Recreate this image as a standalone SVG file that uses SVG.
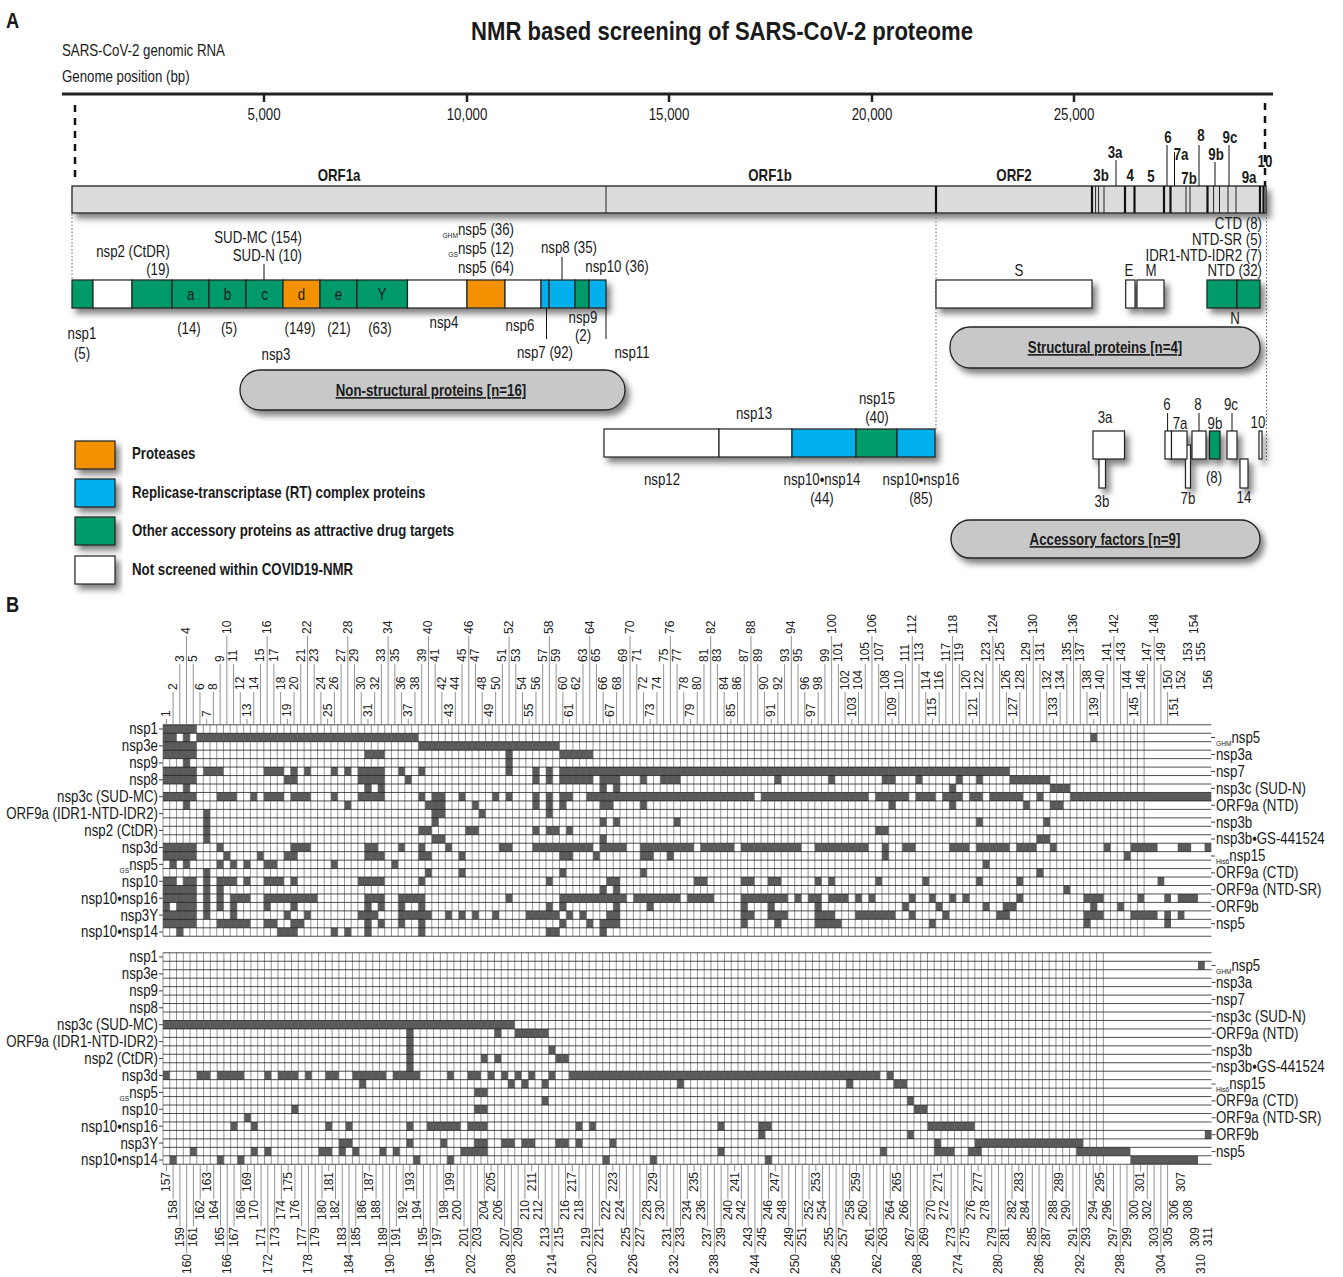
<svg xmlns="http://www.w3.org/2000/svg" width="1343" height="1277" viewBox="0 0 1343 1277">
<defs>
<style>
text{font-family:'Liberation Sans',Arial,sans-serif;font-size:16px;fill:#1a1a1a}
text:not(.cl){transform-box:fill-box;transform:scaleX(.83);transform-origin:left center}
text.m:not(.cl),.m text{transform-origin:center}
text.e:not(.cl),.e text{transform-origin:right center}
text.cl{transform-box:view-box;transform-origin:0 0}
.b{font-weight:bold}.m{text-anchor:middle}.e{text-anchor:end}
.t{font-size:26px;font-weight:bold}
text.t{transform:scaleX(.85)}
.cl{font-size:12px;fill:#222}
.sub{font-size:8px}
.bx{stroke:#222;stroke-width:1.2}
.w{fill:#fff}.g{fill:#00996a}.o{fill:#f39200}.bl{fill:#00b0ec}
.pill{fill:#c8c8c8;stroke:#222;stroke-width:1.3}
.ld{stroke:#111;stroke-width:1;fill:none}
.dot{stroke:#666;stroke-width:1;stroke-dasharray:1.5 2;fill:none}
.fl{fill:#5a5a5a}
.gv{fill:none;stroke:#666;stroke-width:.7}
.gh{fill:none;stroke:#222;stroke-width:.8}
.cld{fill:none;stroke:#777;stroke-width:.8}
</style>
<filter id="sh" x="-10%" y="-30%" width="130%" height="200%"><feDropShadow dx="4" dy="5" stdDeviation="3" flood-color="#000" flood-opacity=".5"/></filter>
</defs>
<rect width="1343" height="1277" fill="#fff"/>

<text class="b" x="6" y="28" style="font-size:22px">A</text>
<text class="t m" x="722" y="40">NMR based screening of SARS-CoV-2 proteome</text>
<text x="62" y="56">SARS-CoV-2 genomic RNA</text>
<text x="62" y="82">Genome position (bp)</text>

<g id="axis">
<line x1="62" y1="94" x2="1273" y2="94" stroke="#222" stroke-width="3"/>
<path d="M264 94v8M467 94v8M669 94v8M872 94v8M1074 94v8" stroke="#222" stroke-width="2.5"/>
<text class="m" x="264" y="120">5,000</text>
<text class="m" x="467" y="120">10,000</text>
<text class="m" x="669" y="120">15,000</text>
<text class="m" x="872" y="120">20,000</text>
<text class="m" x="1074" y="120">25,000</text>
<path d="M75 105V182M1265 103V186" stroke="#111" stroke-width="2.5" stroke-dasharray="7 6"/>
</g>

<g id="genome">
<rect x="72" y="186" width="1194" height="27" fill="#dcdcdc" stroke="#222" stroke-width="1.3" filter="url(#sh)"/>
<path d="M606 186v27M1095.6 186v27M1098.6 186v27M1104 186v27M1186 186v27M1190 186v27M1213.6 186v27M1219.5 186v27M1228 186v27M1236 186v27" stroke="#222" stroke-width="1"/>
<path d="M936 186v27M1092 186v27M1125 186v27M1134.5 186v27M1164 186v27M1170.5 186v27M1207.5 186v27M1260 186v27M1263.5 186v27" stroke="#111" stroke-width="2.2"/>
<path class="ld" d="M1116 160v26M1167 145v41M1174.5 152v34M1199 145v41M1215 162v24M1229 145v41"/>
<text class="b m" x="339" y="181">ORF1a</text>
<text class="b m" x="770" y="181">ORF1b</text>
<text class="b m" x="1014" y="181">ORF2</text>
<g class="b" style="font-size:15px">
<text class="m" x="1101" y="181">3b</text>
<text class="m" x="1130" y="181">4</text>
<text class="m" x="1151" y="182">5</text>
<text class="m" x="1189" y="184">7b</text>
<text class="m" x="1249" y="183">9a</text>
<text class="m" x="1115" y="158">3a</text>
<text class="m" x="1168" y="143">6</text>
<text class="m" x="1181" y="160">7a</text>
<text class="m" x="1201" y="141">8</text>
<text class="m" x="1216" y="160">9b</text>
<text class="m" x="1230" y="143">9c</text>
<text class="m" x="1265" y="167">10</text>
</g>
</g>

<g id="guides">
<path class="dot" d="M72 214V280M936 214V429M1266.5 214V460"/>
</g>

<g id="nsp1-11">
<g filter="url(#sh)" class="bx">
<rect class="g" x="72" y="280" width="21" height="28"/>
<rect class="w" x="93" y="280" width="39" height="28"/>
<rect class="g" x="132" y="280" width="40" height="28"/>
<rect class="g" x="172" y="280" width="37" height="28"/>
<rect class="g" x="209" y="280" width="37" height="28"/>
<rect class="g" x="246" y="280" width="37" height="28"/>
<rect class="o" x="283" y="280" width="37" height="28"/>
<rect class="g" x="320" y="280" width="37" height="28"/>
<rect class="g" x="357" y="280" width="50.5" height="28"/>
<rect class="w" x="407.5" y="280" width="59.5" height="28"/>
<rect class="o" x="467" y="280" width="38" height="28"/>
<rect class="w" x="505" y="280" width="36" height="28"/>
<rect class="bl" x="541" y="280" width="8" height="28"/>
<rect class="bl" x="549" y="280" width="26" height="28"/>
<rect class="g" x="575" y="280" width="14" height="28"/>
<rect class="bl" x="589" y="280" width="17" height="28"/>
</g>
<text class="m" x="190.5" y="300">a</text>
<text class="m" x="227.5" y="300">b</text>
<text class="m" x="264.5" y="300">c</text>
<text class="m" x="301.5" y="300">d</text>
<text class="m" x="338.5" y="300">e</text>
<text class="m" x="382" y="300">Y</text>
<path class="ld" d="M264 264v16M562 257v23M546.5 308v31M606 308v31"/>
<text class="m" x="133" y="257">nsp2 (CtDR)</text>
<text class="m" x="158" y="275">(19)</text>
<text class="e" x="302" y="243">SUD-MC (154)</text>
<text class="e" x="302" y="261">SUD-N (10)</text>
<text class="e" x="514" y="235"><tspan class="sub" dy="3">GHM</tspan><tspan dy="-3">nsp5 (36)</tspan></text>
<text class="e" x="514" y="254"><tspan class="sub" dy="3">GS</tspan><tspan dy="-3">nsp5 (12)</tspan></text>
<text class="e" x="514" y="273">nsp5 (64)</text>
<text class="m" x="569" y="253">nsp8 (35)</text>
<text class="m" x="617" y="272">nsp10 (36)</text>
<text class="m" x="82" y="339">nsp1</text>
<text class="m" x="82" y="359">(5)</text>
<text class="m" x="189" y="334">(14)</text>
<text class="m" x="229" y="334">(5)</text>
<text class="m" x="300" y="334">(149)</text>
<text class="m" x="339" y="334">(21)</text>
<text class="m" x="380" y="334">(63)</text>
<text class="m" x="276" y="360">nsp3</text>
<text class="m" x="444" y="328">nsp4</text>
<text class="m" x="520" y="331">nsp6</text>
<text class="m" x="583" y="323">nsp9</text>
<text class="m" x="583" y="341">(2)</text>
<text class="m" x="545" y="358">nsp7 (92)</text>
<text class="m" x="632" y="358">nsp11</text>
</g>

<g id="pill-nsp">
<rect class="pill" x="240" y="370" width="385" height="40" rx="20" filter="url(#sh)"/>
<text class="b m" x="431" y="396" text-decoration="underline">Non-structural proteins [n=16]</text>
</g>

<g id="structural">
<g filter="url(#sh)" class="bx">
<rect class="w" x="936" y="280" width="156" height="28"/>
<rect class="w" x="1125.7" y="280" width="9.3" height="28"/>
<rect class="w" x="1137" y="280" width="27" height="28"/>
<rect class="g" x="1207" y="280" width="30" height="28"/>
<rect class="g" x="1237" y="280" width="23" height="28"/>
</g>
<text class="e" x="1262" y="229">CTD (8)</text>
<text class="e" x="1262" y="245">NTD-SR (5)</text>
<text class="e" x="1262" y="261">IDR1-NTD-IDR2 (7)</text>
<text class="e" x="1262" y="276">NTD (32)</text>
<text class="m" x="1019" y="276">S</text>
<text class="m" x="1129" y="276">E</text>
<text class="m" x="1151" y="276">M</text>
<text class="m" x="1235" y="324">N</text>
</g>

<g id="pill-structural">
<rect class="pill" x="950" y="327" width="310" height="41" rx="20" filter="url(#sh)"/>
<text class="b m" x="1105" y="353" text-decoration="underline">Structural proteins [n=4]</text>
</g>

<g id="legend">
<g filter="url(#sh)" class="bx">
<rect class="o" x="75" y="441" width="40" height="28"/>
<rect class="bl" x="75" y="479" width="40" height="28"/>
<rect class="g" x="75" y="517" width="40" height="28"/>
<rect class="w" x="75" y="556" width="40" height="28"/>
</g>
<text class="b" x="132" y="459">Proteases</text>
<text class="b" x="132" y="498">Replicase-transcriptase (RT) complex proteins</text>
<text class="b" x="132" y="536">Other accessory proteins as attractive drug targets</text>
<text class="b" x="132" y="575">Not screened within COVID19-NMR</text>
</g>

<g id="nsp12-16">
<g filter="url(#sh)" class="bx">
<rect class="w" x="604" y="429" width="115" height="28"/>
<rect class="w" x="719" y="429" width="73" height="28"/>
<rect class="bl" x="792" y="429" width="64" height="28"/>
<rect class="g" x="856" y="429" width="41" height="28"/>
<rect class="bl" x="897" y="429" width="38" height="28"/>
</g>
<text class="m" x="754" y="419">nsp13</text>
<text class="m" x="877" y="404">nsp15</text>
<text class="m" x="877" y="423">(40)</text>
<text class="m" x="662" y="485">nsp12</text>
<text class="m" x="822" y="485">nsp10•nsp14</text>
<text class="m" x="822" y="504">(44)</text>
<text class="m" x="921" y="485">nsp10•nsp16</text>
<text class="m" x="921" y="504">(85)</text>
</g>

<g id="accessory">
<g filter="url(#sh)" class="bx">
<rect class="w" x="1099" y="459" width="6.5" height="29"/>
<rect class="w" x="1093" y="431" width="31.5" height="28"/>
<rect class="w" x="1185.5" y="445" width="5" height="43"/>
<rect class="w" x="1165" y="431" width="6.5" height="28"/>
<rect class="w" x="1171.5" y="431" width="15.5" height="28"/>
<rect class="w" x="1192" y="431" width="14" height="28"/>
<rect class="g" x="1209.5" y="431" width="10.5" height="28"/>
<rect class="w" x="1227" y="431" width="10" height="28"/>
<rect class="w" x="1240" y="459" width="8" height="29"/>
<rect class="w" x="1259" y="431" width="3" height="28"/>
</g>
<path class="ld" d="M1167.6 413v18M1199 413v18M1232 413v18"/>
<text class="m" x="1105" y="423">3a</text>
<text class="m" x="1102" y="507">3b</text>
<text class="m" x="1167" y="410">6</text>
<text class="m" x="1180" y="429">7a</text>
<text class="m" x="1188" y="504">7b</text>
<text class="m" x="1198" y="410">8</text>
<text class="m" x="1215" y="429">9b</text>
<text class="m" x="1214" y="483">(8)</text>
<text class="m" x="1231" y="410">9c</text>
<text class="m" x="1244" y="503">14</text>
<text class="m" x="1258" y="428">10</text>
</g>

<g id="pill-accessory">
<rect class="pill" x="951" y="520" width="309" height="38" rx="19" filter="url(#sh)"/>
<text class="b m" x="1105" y="545" text-decoration="underline">Accessory factors [n=9]</text>
</g>

<text class="b" x="6" y="612" style="font-size:22px">B</text>

<g id="grid-top">
<g transform="translate(163 724.8) scale(6.72 8.458)">
<rect width="156" height="25" fill="#fff"/>
<path class="fl" d="M0 0h5v1h-5zM0 1h2v1h-2zM3 1h1v1h-1zM5 1h33v1h-33zM138 1h1v1h-1zM0 2h5v1h-5zM38 2h21v1h-21zM0 3h5v1h-5zM30 3h3v1h-3zM51 3h1v1h-1zM59 3h5v1h-5zM3 4h1v1h-1zM51 4h1v1h-1zM0 5h5v1h-5zM6 5h3v1h-3zM15 5h3v1h-3zM19 5h1v1h-1zM21 5h1v1h-1zM25 5h1v1h-1zM27 5h1v1h-1zM29 5h4v1h-4zM35 5h1v1h-1zM38 5h1v1h-1zM51 5h1v1h-1zM55 5h1v1h-1zM57 5h1v1h-1zM59 5h67v1h-67zM0 6h5v1h-5zM18 6h2v1h-2zM29 6h4v1h-4zM36 6h1v1h-1zM55 6h1v1h-1zM57 6h1v1h-1zM59 6h5v1h-5zM65 6h3v1h-3zM71 6h1v1h-1zM74 6h3v1h-3zM91 6h1v1h-1zM99 6h1v1h-1zM107 6h2v1h-2zM112 6h1v1h-1zM118 6h1v1h-1zM121 6h1v1h-1zM126 6h6v1h-6zM3 7h1v1h-1zM30 7h1v1h-1zM32 7h1v1h-1zM65 7h1v1h-1zM67 7h1v1h-1zM117 7h1v1h-1zM132 7h3v1h-3zM0 8h5v1h-5zM8 8h3v1h-3zM13 8h1v1h-1zM15 8h3v1h-3zM19 8h3v1h-3zM25 8h1v1h-1zM29 8h4v1h-4zM38 8h1v1h-1zM40 8h2v1h-2zM44 8h1v1h-1zM49 8h1v1h-1zM51 8h1v1h-1zM55 8h1v1h-1zM57 8h1v1h-1zM59 8h2v1h-2zM63 8h25v1h-25zM89 8h16v1h-16zM106 8h5v1h-5zM112 8h3v1h-3zM116 8h3v1h-3zM120 8h2v1h-2zM123 8h5v1h-5zM130 8h1v1h-1zM135 8h21v1h-21zM3 9h1v1h-1zM27 9h1v1h-1zM39 9h3v1h-3zM46 9h1v1h-1zM55 9h1v1h-1zM57 9h1v1h-1zM59 9h1v1h-1zM65 9h2v1h-2zM71 9h1v1h-1zM108 9h1v1h-1zM117 9h1v1h-1zM128 9h1v1h-1zM132 9h2v1h-2zM6 10h1v1h-1zM40 10h2v1h-2zM47 10h1v1h-1zM57 10h1v1h-1zM6 11h1v1h-1zM40 11h1v1h-1zM65 11h1v1h-1zM67 11h1v1h-1zM76 11h1v1h-1zM121 11h1v1h-1zM131 11h1v1h-1zM6 12h1v1h-1zM38 12h2v1h-2zM45 12h2v1h-2zM55 12h1v1h-1zM57 12h2v1h-2zM60 12h1v1h-1zM106 12h2v1h-2zM6 13h1v1h-1zM40 13h2v1h-2zM65 13h1v1h-1zM130 13h2v1h-2zM0 14h5v1h-5zM8 14h1v1h-1zM19 14h3v1h-3zM30 14h2v1h-2zM35 14h1v1h-1zM38 14h1v1h-1zM42 14h1v1h-1zM50 14h2v1h-2zM55 14h9v1h-9zM65 14h4v1h-4zM71 14h8v1h-8zM80 14h5v1h-5zM86 14h9v1h-9zM97 14h8v1h-8zM107 14h1v1h-1zM110 14h2v1h-2zM117 14h3v1h-3zM121 14h5v1h-5zM127 14h3v1h-3zM132 14h1v1h-1zM140 14h1v1h-1zM144 14h4v1h-4zM151 14h2v1h-2zM155 14h1v1h-1zM0 15h5v1h-5zM9 15h1v1h-1zM14 15h1v1h-1zM18 15h2v1h-2zM30 15h3v1h-3zM38 15h2v1h-2zM44 15h1v1h-1zM59 15h2v1h-2zM64 15h1v1h-1zM71 15h2v1h-2zM75 15h1v1h-1zM107 15h1v1h-1zM143 15h1v1h-1zM1 16h1v1h-1zM3 16h1v1h-1zM8 16h1v1h-1zM10 16h1v1h-1zM12 16h1v1h-1zM15 16h2v1h-2zM25 16h1v1h-1zM34 16h1v1h-1zM122 16h1v1h-1zM6 17h1v1h-1zM39 17h1v1h-1zM44 17h1v1h-1zM59 17h1v1h-1zM71 17h1v1h-1zM130 17h1v1h-1zM0 18h2v1h-2zM3 18h2v1h-2zM6 18h1v1h-1zM8 18h3v1h-3zM12 18h1v1h-1zM15 18h3v1h-3zM19 18h1v1h-1zM29 18h4v1h-4zM38 18h1v1h-1zM57 18h1v1h-1zM66 18h2v1h-2zM79 18h2v1h-2zM86 18h2v1h-2zM90 18h2v1h-2zM97 18h1v1h-1zM99 18h1v1h-1zM106 18h1v1h-1zM113 18h1v1h-1zM121 18h1v1h-1zM127 18h1v1h-1zM148 18h1v1h-1zM0 19h5v1h-5zM6 19h1v1h-1zM8 19h1v1h-1zM65 19h1v1h-1zM67 19h1v1h-1zM134 19h1v1h-1zM0 20h5v1h-5zM6 20h1v1h-1zM8 20h1v1h-1zM10 20h3v1h-3zM15 20h8v1h-8zM30 20h3v1h-3zM35 20h4v1h-4zM51 20h1v1h-1zM59 20h10v1h-10zM70 20h7v1h-7zM78 20h4v1h-4zM86 20h7v1h-7zM94 20h1v1h-1zM96 20h2v1h-2zM99 20h3v1h-3zM103 20h1v1h-1zM105 20h1v1h-1zM111 20h1v1h-1zM114 20h1v1h-1zM117 20h1v1h-1zM119 20h1v1h-1zM127 20h1v1h-1zM137 20h3v1h-3zM145 20h1v1h-1zM149 20h1v1h-1zM151 20h3v1h-3zM0 21h1v1h-1zM2 21h3v1h-3zM6 21h1v1h-1zM8 21h1v1h-1zM10 21h1v1h-1zM15 21h1v1h-1zM19 21h1v1h-1zM30 21h1v1h-1zM32 21h1v1h-1zM35 21h1v1h-1zM38 21h1v1h-1zM57 21h1v1h-1zM59 21h1v1h-1zM67 21h1v1h-1zM72 21h1v1h-1zM86 21h1v1h-1zM90 21h1v1h-1zM97 21h1v1h-1zM110 21h1v1h-1zM115 21h1v1h-1zM122 21h1v1h-1zM125 21h2v1h-2zM138 21h1v1h-1zM142 21h1v1h-1zM0 22h5v1h-5zM6 22h1v1h-1zM10 22h1v1h-1zM18 22h1v1h-1zM21 22h1v1h-1zM29 22h3v1h-3zM35 22h5v1h-5zM42 22h1v1h-1zM44 22h1v1h-1zM46 22h1v1h-1zM49 22h1v1h-1zM54 22h5v1h-5zM60 22h1v1h-1zM62 22h1v1h-1zM66 22h2v1h-2zM86 22h2v1h-2zM90 22h3v1h-3zM97 22h3v1h-3zM103 22h6v1h-6zM111 22h1v1h-1zM116 22h1v1h-1zM124 22h2v1h-2zM137 22h3v1h-3zM144 22h4v1h-4zM149 22h1v1h-1zM151 22h1v1h-1zM0 23h5v1h-5zM8 23h5v1h-5zM15 23h2v1h-2zM19 23h2v1h-2zM30 23h1v1h-1zM32 23h1v1h-1zM35 23h1v1h-1zM38 23h1v1h-1zM59 23h1v1h-1zM63 23h1v1h-1zM65 23h3v1h-3zM86 23h1v1h-1zM91 23h1v1h-1zM97 23h4v1h-4zM114 23h1v1h-1zM137 23h1v1h-1zM149 23h1v1h-1zM2 24h1v1h-1zM17 24h3v1h-3zM25 24h1v1h-1zM27 24h1v1h-1zM30 24h1v1h-1zM38 24h1v1h-1zM57 24h2v1h-2zM65 24h1v1h-1z"/>
<path class="gv" vector-effect="non-scaling-stroke" d="M0 0v25m1-25v25m1-25v25m1-25v25m1-25v25m1-25v25m1-25v25m1-25v25m1-25v25m1-25v25m1-25v25m1-25v25m1-25v25m1-25v25m1-25v25m1-25v25m1-25v25m1-25v25m1-25v25m1-25v25m1-25v25m1-25v25m1-25v25m1-25v25m1-25v25m1-25v25m1-25v25m1-25v25m1-25v25m1-25v25m1-25v25m1-25v25m1-25v25m1-25v25m1-25v25m1-25v25m1-25v25m1-25v25m1-25v25m1-25v25m1-25v25m1-25v25m1-25v25m1-25v25m1-25v25m1-25v25m1-25v25m1-25v25m1-25v25m1-25v25m1-25v25m1-25v25m1-25v25m1-25v25m1-25v25m1-25v25m1-25v25m1-25v25m1-25v25m1-25v25m1-25v25m1-25v25m1-25v25m1-25v25m1-25v25m1-25v25m1-25v25m1-25v25m1-25v25m1-25v25m1-25v25m1-25v25m1-25v25m1-25v25m1-25v25m1-25v25m1-25v25m1-25v25m1-25v25m1-25v25m1-25v25m1-25v25m1-25v25m1-25v25m1-25v25m1-25v25m1-25v25m1-25v25m1-25v25m1-25v25m1-25v25m1-25v25m1-25v25m1-25v25m1-25v25m1-25v25m1-25v25m1-25v25m1-25v25m1-25v25m1-25v25m1-25v25m1-25v25m1-25v25m1-25v25m1-25v25m1-25v25m1-25v25m1-25v25m1-25v25m1-25v25m1-25v25m1-25v25m1-25v25m1-25v25m1-25v25m1-25v25m1-25v25m1-25v25m1-25v25m1-25v25m1-25v25m1-25v25m1-25v25m1-25v25m1-25v25m1-25v25m1-25v25m1-25v25m1-25v25m1-25v25m1-25v25m1-25v25m1-25v25m1-25v25m1-25v25m1-25v25m1-25v25m1-25v25m1-25v25m1-25v25m1-25v25m1-25v25m1-25v25m1-25v25m1-25v25m1-25v25"/>
<path class="gh" vector-effect="non-scaling-stroke" d="M0 0h156m-156 1h156m-156 1h156m-156 1h156m-156 1h156m-156 1h156m-156 1h156m-156 1h156m-156 1h156m-156 1h156m-156 1h156m-156 1h156m-156 1h156m-156 1h156m-156 1h156m-156 1h156m-156 1h156m-156 1h156m-156 1h156m-156 1h156m-156 1h156m-156 1h156m-156 1h156m-156 1h156m-156 1h156m-156 1h156"/>
</g>
<g transform="translate(163 0) scale(6.72 1)">
<path class="cld" vector-effect="non-scaling-stroke" d="M0.5 725v-6m1 6v-33m1 33v-61m1 61v-89m1 89v-61m1 61v-33m1 33v-6m1 6v-33m1 33v-61m1 61v-89m1 89v-61m1 61v-33m1 33v-6m1 6v-33m1 33v-61m1 61v-89m1 89v-61m1 61v-33m1 33v-6m1 6v-33m1 33v-61m1 61v-89m1 89v-61m1 61v-33m1 33v-6m1 6v-33m1 33v-61m1 61v-89m1 89v-61m1 61v-33m1 33v-6m1 6v-33m1 33v-61m1 61v-89m1 89v-61m1 61v-33m1 33v-6m1 6v-33m1 33v-61m1 61v-89m1 89v-61m1 61v-33m1 33v-6m1 6v-33m1 33v-61m1 61v-89m1 89v-61m1 61v-33m1 33v-6m1 6v-33m1 33v-61m1 61v-89m1 89v-61m1 61v-33m1 33v-6m1 6v-33m1 33v-61m1 61v-89m1 89v-61m1 61v-33m1 33v-6m1 6v-33m1 33v-61m1 61v-89m1 89v-61m1 61v-33m1 33v-6m1 6v-33m1 33v-61m1 61v-89m1 89v-61m1 61v-33m1 33v-6m1 6v-33m1 33v-61m1 61v-89m1 89v-61m1 61v-33m1 33v-6m1 6v-33m1 33v-61m1 61v-89m1 89v-61m1 61v-33m1 33v-6m1 6v-33m1 33v-61m1 61v-89m1 89v-61m1 61v-33m1 33v-6m1 6v-33m1 33v-61m1 61v-89m1 89v-61m1 61v-33m1 33v-6m1 6v-33m1 33v-61m1 61v-89m1 89v-61m1 61v-33m1 33v-6m1 6v-33m1 33v-61m1 61v-89m1 89v-61m1 61v-33m1 33v-6m1 6v-33m1 33v-61m1 61v-89m1 89v-61m1 61v-33m1 33v-6m1 6v-33m1 33v-61m1 61v-89m1 89v-61m1 61v-33m1 33v-6m1 6v-33m1 33v-61m1 61v-89m1 89v-61m1 61v-33m1 33v-6m1 6v-33m1 33v-61m1 61v-89m1 89v-61m1 61v-33m1 33v-6m1 6v-33m1 33v-61m1 61v-89m1 89v-61m1 61v-33m1 33v-6m1 6v-33m1 33v-61m1 61v-89m1 89v-61m1 61v-33m1 33v-6m1 6v-33m1 33v-61m1 61v-89m1 89v-61m1 61v-33m1 33"/>
</g>
<text class="cl" transform="rotate(-90)" y="170.26"><tspan x="-717">1</tspan><tspan x="-717" dy="40.32">7</tspan><tspan x="-717" dy="40.32">13</tspan><tspan x="-717" dy="40.32">19</tspan><tspan x="-717" dy="40.32">25</tspan><tspan x="-717" dy="40.32">31</tspan><tspan x="-717" dy="40.32">37</tspan><tspan x="-717" dy="40.32">43</tspan><tspan x="-717" dy="40.32">49</tspan><tspan x="-717" dy="40.32">55</tspan><tspan x="-717" dy="40.32">61</tspan><tspan x="-717" dy="40.32">67</tspan><tspan x="-717" dy="40.32">73</tspan><tspan x="-717" dy="40.32">79</tspan><tspan x="-717" dy="40.32">85</tspan><tspan x="-717" dy="40.32">91</tspan><tspan x="-717" dy="40.32">97</tspan><tspan x="-717" dy="40.32">103</tspan><tspan x="-717" dy="40.32">109</tspan><tspan x="-717" dy="40.32">115</tspan><tspan x="-717" dy="40.32">121</tspan><tspan x="-717" dy="40.32">127</tspan><tspan x="-717" dy="40.32">133</tspan><tspan x="-717" dy="40.32">139</tspan><tspan x="-717" dy="40.32">145</tspan><tspan x="-717" dy="40.32">151</tspan></text>
<text class="cl" transform="rotate(-90)" y="190.42"><tspan x="-634">4</tspan><tspan x="-634" dy="40.32">10</tspan><tspan x="-634" dy="40.32">16</tspan><tspan x="-634" dy="40.32">22</tspan><tspan x="-634" dy="40.32">28</tspan><tspan x="-634" dy="40.32">34</tspan><tspan x="-634" dy="40.32">40</tspan><tspan x="-634" dy="40.32">46</tspan><tspan x="-634" dy="40.32">52</tspan><tspan x="-634" dy="40.32">58</tspan><tspan x="-634" dy="40.32">64</tspan><tspan x="-634" dy="40.32">70</tspan><tspan x="-634" dy="40.32">76</tspan><tspan x="-634" dy="40.32">82</tspan><tspan x="-634" dy="40.32">88</tspan><tspan x="-634" dy="40.32">94</tspan><tspan x="-634" dy="40.32">100</tspan><tspan x="-634" dy="40.32">106</tspan><tspan x="-634" dy="40.32">112</tspan><tspan x="-634" dy="40.32">118</tspan><tspan x="-634" dy="40.32">124</tspan><tspan x="-634" dy="40.32">130</tspan><tspan x="-634" dy="40.32">136</tspan><tspan x="-634" dy="40.32">142</tspan><tspan x="-634" dy="40.32">148</tspan><tspan x="-634" dy="40.32">154</tspan></text>
<text class="cl" transform="rotate(-90)" y="176.98"><tspan x="-690">2</tspan><tspan x="-690" dy="26.88">6</tspan><tspan x="-690" dy="13.44">8</tspan><tspan x="-690" dy="26.88">12</tspan><tspan x="-690" dy="13.44">14</tspan><tspan x="-690" dy="26.88">18</tspan><tspan x="-690" dy="13.44">20</tspan><tspan x="-690" dy="26.88">24</tspan><tspan x="-690" dy="13.44">26</tspan><tspan x="-690" dy="26.88">30</tspan><tspan x="-690" dy="13.44">32</tspan><tspan x="-690" dy="26.88">36</tspan><tspan x="-690" dy="13.44">38</tspan><tspan x="-690" dy="26.88">42</tspan><tspan x="-690" dy="13.44">44</tspan><tspan x="-690" dy="26.88">48</tspan><tspan x="-690" dy="13.44">50</tspan><tspan x="-690" dy="26.88">54</tspan><tspan x="-690" dy="13.44">56</tspan><tspan x="-690" dy="26.88">60</tspan><tspan x="-690" dy="13.44">62</tspan><tspan x="-690" dy="26.88">66</tspan><tspan x="-690" dy="13.44">68</tspan><tspan x="-690" dy="26.88">72</tspan><tspan x="-690" dy="13.44">74</tspan><tspan x="-690" dy="26.88">78</tspan><tspan x="-690" dy="13.44">80</tspan><tspan x="-690" dy="26.88">84</tspan><tspan x="-690" dy="13.44">86</tspan><tspan x="-690" dy="26.88">90</tspan><tspan x="-690" dy="13.44">92</tspan><tspan x="-690" dy="26.88">96</tspan><tspan x="-690" dy="13.44">98</tspan><tspan x="-690" dy="26.88">102</tspan><tspan x="-690" dy="13.44">104</tspan><tspan x="-690" dy="26.88">108</tspan><tspan x="-690" dy="13.44">110</tspan><tspan x="-690" dy="26.88">114</tspan><tspan x="-690" dy="13.44">116</tspan><tspan x="-690" dy="26.88">120</tspan><tspan x="-690" dy="13.44">122</tspan><tspan x="-690" dy="26.88">126</tspan><tspan x="-690" dy="13.44">128</tspan><tspan x="-690" dy="26.88">132</tspan><tspan x="-690" dy="13.44">134</tspan><tspan x="-690" dy="26.88">138</tspan><tspan x="-690" dy="13.44">140</tspan><tspan x="-690" dy="26.88">144</tspan><tspan x="-690" dy="13.44">146</tspan><tspan x="-690" dy="26.88">150</tspan><tspan x="-690" dy="13.44">152</tspan><tspan x="-690" dy="26.88">156</tspan></text>
<text class="cl" transform="rotate(-90)" y="183.7"><tspan x="-662">3</tspan><tspan x="-662" dy="13.44">5</tspan><tspan x="-662" dy="26.88">9</tspan><tspan x="-662" dy="13.44">11</tspan><tspan x="-662" dy="26.88">15</tspan><tspan x="-662" dy="13.44">17</tspan><tspan x="-662" dy="26.88">21</tspan><tspan x="-662" dy="13.44">23</tspan><tspan x="-662" dy="26.88">27</tspan><tspan x="-662" dy="13.44">29</tspan><tspan x="-662" dy="26.88">33</tspan><tspan x="-662" dy="13.44">35</tspan><tspan x="-662" dy="26.88">39</tspan><tspan x="-662" dy="13.44">41</tspan><tspan x="-662" dy="26.88">45</tspan><tspan x="-662" dy="13.44">47</tspan><tspan x="-662" dy="26.88">51</tspan><tspan x="-662" dy="13.44">53</tspan><tspan x="-662" dy="26.88">57</tspan><tspan x="-662" dy="13.44">59</tspan><tspan x="-662" dy="26.88">63</tspan><tspan x="-662" dy="13.44">65</tspan><tspan x="-662" dy="26.88">69</tspan><tspan x="-662" dy="13.44">71</tspan><tspan x="-662" dy="26.88">75</tspan><tspan x="-662" dy="13.44">77</tspan><tspan x="-662" dy="26.88">81</tspan><tspan x="-662" dy="13.44">83</tspan><tspan x="-662" dy="26.88">87</tspan><tspan x="-662" dy="13.44">89</tspan><tspan x="-662" dy="26.88">93</tspan><tspan x="-662" dy="13.44">95</tspan><tspan x="-662" dy="26.88">99</tspan><tspan x="-662" dy="13.44">101</tspan><tspan x="-662" dy="26.88">105</tspan><tspan x="-662" dy="13.44">107</tspan><tspan x="-662" dy="26.88">111</tspan><tspan x="-662" dy="13.44">113</tspan><tspan x="-662" dy="26.88">117</tspan><tspan x="-662" dy="13.44">119</tspan><tspan x="-662" dy="26.88">123</tspan><tspan x="-662" dy="13.44">125</tspan><tspan x="-662" dy="26.88">129</tspan><tspan x="-662" dy="13.44">131</tspan><tspan x="-662" dy="26.88">135</tspan><tspan x="-662" dy="13.44">137</tspan><tspan x="-662" dy="26.88">141</tspan><tspan x="-662" dy="13.44">143</tspan><tspan x="-662" dy="26.88">147</tspan><tspan x="-662" dy="13.44">149</tspan><tspan x="-662" dy="26.88">153</tspan><tspan x="-662" dy="13.44">155</tspan></text>
<path stroke="#444" d="M159 729h4M159 745.9h4M159 762.9h4M159 779.8h4M159 796.7h4M159 813.6h4M159 830.5h4M159 847.5h4M159 864.4h4M159 881.3h4M159 898.2h4M159 915.1h4M159 932h4M1211 737.5h4M1211 754.4h4M1211 771.4h4M1211 788.3h4M1211 805.2h4M1211 822.1h4M1211 839h4M1211 856h4M1211 872.9h4M1211 889.8h4M1211 906.7h4M1211 923.6h4"/>
<g class="e">
<text x="158" y="734.5">nsp1</text>
<text x="158" y="751.4">nsp3e</text>
<text x="158" y="768.4">nsp9</text>
<text x="158" y="785.3">nsp8</text>
<text x="158" y="802.2">nsp3c (SUD-MC)</text>
<text x="158" y="819.1">ORF9a (IDR1-NTD-IDR2)</text>
<text x="158" y="836">nsp2 (CtDR)</text>
<text x="158" y="853">nsp3d</text>
<text x="158" y="869.9"><tspan class="sub" dy="3">GS</tspan><tspan dy="-3">nsp5</tspan></text>
<text x="158" y="886.8">nsp10</text>
<text x="158" y="903.7">nsp10•nsp16</text>
<text x="158" y="920.6">nsp3Y</text>
<text x="158" y="937.5">nsp10•nsp14</text>
</g>
<text x="1216" y="743"><tspan class="sub" dy="3">GHM</tspan><tspan dy="-3">nsp5</tspan></text>
<text x="1216" y="759.9">nsp3a</text>
<text x="1216" y="776.9">nsp7</text>
<text x="1216" y="793.8">nsp3c (SUD-N)</text>
<text x="1216" y="810.7">ORF9a (NTD)</text>
<text x="1216" y="827.6">nsp3b</text>
<text x="1216" y="844.5">nsp3b•GS-441524</text>
<text x="1216" y="861.5"><tspan class="sub" dy="3">His6</tspan><tspan dy="-3">nsp15</tspan></text>
<text x="1216" y="878.4">ORF9a (CTD)</text>
<text x="1216" y="895.3">ORF9a (NTD-SR)</text>
<text x="1216" y="912.2">ORF9b</text>
<text x="1216" y="929.1">nsp5</text>
</g>

<g id="grid-bottom">
<g transform="translate(163 952.8) scale(6.765 8.458)">
<rect width="155" height="25" fill="#fff"/>
<path class="fl" d="M153 1h1v1h-1zM0 8h52v1H0zM36 9h1v1h-1zM49 9h1v1h-1zM52 9h5v1H52zM36 10h1v1h-1zM36 11h1v1h-1zM57 11h1v1h-1zM36 12h1v1h-1zM47 12h1v1h-1zM49 12h1v1h-1zM58 12h2v1H58zM36 13h1v1h-1zM0 14h1v1H0zM5 14h2v1H5zM8 14h4v1H8zM15 14h1v1h-1zM17 14h3v1H17zM21 14h1v1h-1zM24 14h2v1H24zM28 14h5v1H28zM34 14h4v1H34zM42 14h1v1h-1zM45 14h2v1H45zM48 14h1v1h-1zM50 14h1v1h-1zM52 14h1v1h-1zM54 14h1v1h-1zM57 14h1v1h-1zM60 14h46v1H60zM107 14h1v1h-1zM29 15h1v1h-1zM51 15h1v1h-1zM53 15h1v1h-1zM56 15h1v1h-1zM76 15h1v1h-1zM101 15h1v1h-1zM108 15h2v1H108zM46 16h2v1H46zM56 17h1v1h-1zM110 17h1v1h-1zM19 18h1v1h-1zM46 18h2v1H46zM111 18h2v1H111zM12 19h1v1h-1zM10 20h1v1h-1zM13 20h1v1h-1zM24 20h1v1h-1zM27 20h1v1h-1zM36 20h1v1h-1zM39 20h5v1H39zM45 20h3v1H45zM61 20h1v1h-1zM63 20h1v1h-1zM82 20h1v1h-1zM88 20h2v1H88zM113 20h7v1H113zM88 21h1v1h-1zM110 21h1v1h-1zM154 21h1v1h-1zM26 22h2v1H26zM36 22h1v1h-1zM41 22h1v1h-1zM46 22h2v1H46zM50 22h2v1H50zM53 22h2v1H53zM58 22h2v1H58zM61 22h1v1h-1zM66 22h1v1h-1zM114 22h1v1h-1zM120 22h16v1H120zM4 23h1v1h-1zM13 23h1v1h-1zM15 23h1v1h-1zM23 23h2v1H23zM26 23h1v1h-1zM28 23h1v1h-1zM32 23h1v1h-1zM34 23h1v1h-1zM44 23h4v1H44zM82 23h1v1h-1zM106 23h1v1h-1zM114 23h3v1H114zM119 23h2v1H119zM135 23h8v1H135zM1 24h1v1h-1zM8 24h1v1h-1zM11 24h1v1h-1zM37 24h1v1h-1zM42 24h1v1h-1zM65 24h1v1h-1zM72 24h1v1h-1zM89 24h1v1h-1zM143 24h10v1H143z"/>
<path class="gv" vector-effect="non-scaling-stroke" d="M0 0v25m1-25v25m1-25v25m1-25v25m1-25v25m1-25v25m1-25v25m1-25v25m1-25v25m1-25v25m1-25v25m1-25v25m1-25v25m1-25v25m1-25v25m1-25v25m1-25v25m1-25v25m1-25v25m1-25v25m1-25v25m1-25v25m1-25v25m1-25v25m1-25v25m1-25v25m1-25v25m1-25v25m1-25v25m1-25v25m1-25v25m1-25v25m1-25v25m1-25v25m1-25v25m1-25v25m1-25v25m1-25v25m1-25v25m1-25v25m1-25v25m1-25v25m1-25v25m1-25v25m1-25v25m1-25v25m1-25v25m1-25v25m1-25v25m1-25v25m1-25v25m1-25v25m1-25v25m1-25v25m1-25v25m1-25v25m1-25v25m1-25v25m1-25v25m1-25v25m1-25v25m1-25v25m1-25v25m1-25v25m1-25v25m1-25v25m1-25v25m1-25v25m1-25v25m1-25v25m1-25v25m1-25v25m1-25v25m1-25v25m1-25v25m1-25v25m1-25v25m1-25v25m1-25v25m1-25v25m1-25v25m1-25v25m1-25v25m1-25v25m1-25v25m1-25v25m1-25v25m1-25v25m1-25v25m1-25v25m1-25v25m1-25v25m1-25v25m1-25v25m1-25v25m1-25v25m1-25v25m1-25v25m1-25v25m1-25v25m1-25v25m1-25v25m1-25v25m1-25v25m1-25v25m1-25v25m1-25v25m1-25v25m1-25v25m1-25v25m1-25v25m1-25v25m1-25v25m1-25v25m1-25v25m1-25v25m1-25v25m1-25v25m1-25v25m1-25v25m1-25v25m1-25v25m1-25v25m1-25v25m1-25v25m1-25v25m1-25v25m1-25v25m1-25v25m1-25v25m1-25v25m1-25v25m1-25v25m1-25v25m1-25v25m1-25v25m1-25v25m1-25v25m1-25v25m1-25v25"/>
<path class="gh" vector-effect="non-scaling-stroke" d="M0 0h155m-155 1h155m-155 1h155m-155 1h155m-155 1h155m-155 1h155m-155 1h155m-155 1h155m-155 1h155m-155 1h155m-155 1h155m-155 1h155m-155 1h155m-155 1h155m-155 1h155m-155 1h155m-155 1h155m-155 1h155m-155 1h155m-155 1h155m-155 1h155m-155 1h155m-155 1h155m-155 1h155m-155 1h155m-155 1h155"/>
</g>
<g transform="translate(163 0) scale(6.765 1)">
<path class="cld" vector-effect="non-scaling-stroke" d="M0.5 1164.3v7m1-7v35m1-35v62m1-62v89m1-89v62m1-62v35m1-35v7m1-7v35m1-35v62m1-62v89m1-89v62m1-62v35m1-35v7m1-7v35m1-35v62m1-62v89m1-89v62m1-62v35m1-35v7m1-7v35m1-35v62m1-62v89m1-89v62m1-62v35m1-35v7m1-7v35m1-35v62m1-62v89m1-89v62m1-62v35m1-35v7m1-7v35m1-35v62m1-62v89m1-89v62m1-62v35m1-35v7m1-7v35m1-35v62m1-62v89m1-89v62m1-62v35m1-35v7m1-7v35m1-35v62m1-62v89m1-89v62m1-62v35m1-35v7m1-7v35m1-35v62m1-62v89m1-89v62m1-62v35m1-35v7m1-7v35m1-35v62m1-62v89m1-89v62m1-62v35m1-35v7m1-7v35m1-35v62m1-62v89m1-89v62m1-62v35m1-35v7m1-7v35m1-35v62m1-62v89m1-89v62m1-62v35m1-35v7m1-7v35m1-35v62m1-62v89m1-89v62m1-62v35m1-35v7m1-7v35m1-35v62m1-62v89m1-89v62m1-62v35m1-35v7m1-7v35m1-35v62m1-62v89m1-89v62m1-62v35m1-35v7m1-7v35m1-35v62m1-62v89m1-89v62m1-62v35m1-35v7m1-7v35m1-35v62m1-62v89m1-89v62m1-62v35m1-35v7m1-7v35m1-35v62m1-62v89m1-89v62m1-62v35m1-35v7m1-7v35m1-35v62m1-62v89m1-89v62m1-62v35m1-35v7m1-7v35m1-35v62m1-62v89m1-89v62m1-62v35m1-35v7m1-7v35m1-35v62m1-62v89m1-89v62m1-62v35m1-35v7m1-7v35m1-35v62m1-62v89m1-89v62m1-62v35m1-35v7m1-7v35m1-35v62m1-62v89m1-89v62m1-62v35m1-35v7m1-7v35m1-35v62m1-62v89m1-89v62m1-62v35m1-35v7m1-7v35m1-35v62m1-62v89m1-89v62"/>
</g>
<text class="cl e" transform="rotate(-90)" y="170.29"><tspan x="-1172">157</tspan><tspan x="-1172" dy="40.59">163</tspan><tspan x="-1172" dy="40.59">169</tspan><tspan x="-1172" dy="40.59">175</tspan><tspan x="-1172" dy="40.59">181</tspan><tspan x="-1172" dy="40.59">187</tspan><tspan x="-1172" dy="40.59">193</tspan><tspan x="-1172" dy="40.59">199</tspan><tspan x="-1172" dy="40.59">205</tspan><tspan x="-1172" dy="40.59">211</tspan><tspan x="-1172" dy="40.59">217</tspan><tspan x="-1172" dy="40.59">223</tspan><tspan x="-1172" dy="40.59">229</tspan><tspan x="-1172" dy="40.59">235</tspan><tspan x="-1172" dy="40.59">241</tspan><tspan x="-1172" dy="40.59">247</tspan><tspan x="-1172" dy="40.59">253</tspan><tspan x="-1172" dy="40.59">259</tspan><tspan x="-1172" dy="40.59">265</tspan><tspan x="-1172" dy="40.59">271</tspan><tspan x="-1172" dy="40.59">277</tspan><tspan x="-1172" dy="40.59">283</tspan><tspan x="-1172" dy="40.59">289</tspan><tspan x="-1172" dy="40.59">295</tspan><tspan x="-1172" dy="40.59">301</tspan><tspan x="-1172" dy="40.59">307</tspan></text>
<text class="cl e" transform="rotate(-90)" y="190.58"><tspan x="-1254">160</tspan><tspan x="-1254" dy="40.59">166</tspan><tspan x="-1254" dy="40.59">172</tspan><tspan x="-1254" dy="40.59">178</tspan><tspan x="-1254" dy="40.59">184</tspan><tspan x="-1254" dy="40.59">190</tspan><tspan x="-1254" dy="40.59">196</tspan><tspan x="-1254" dy="40.59">202</tspan><tspan x="-1254" dy="40.59">208</tspan><tspan x="-1254" dy="40.59">214</tspan><tspan x="-1254" dy="40.59">220</tspan><tspan x="-1254" dy="40.59">226</tspan><tspan x="-1254" dy="40.59">232</tspan><tspan x="-1254" dy="40.59">238</tspan><tspan x="-1254" dy="40.59">244</tspan><tspan x="-1254" dy="40.59">250</tspan><tspan x="-1254" dy="40.59">256</tspan><tspan x="-1254" dy="40.59">262</tspan><tspan x="-1254" dy="40.59">268</tspan><tspan x="-1254" dy="40.59">274</tspan><tspan x="-1254" dy="40.59">280</tspan><tspan x="-1254" dy="40.59">286</tspan><tspan x="-1254" dy="40.59">292</tspan><tspan x="-1254" dy="40.59">298</tspan><tspan x="-1254" dy="40.59">304</tspan><tspan x="-1254" dy="40.59">310</tspan></text>
<text class="cl e" transform="rotate(-90)" y="177.05"><tspan x="-1200">158</tspan><tspan x="-1200" dy="27.06">162</tspan><tspan x="-1200" dy="13.53">164</tspan><tspan x="-1200" dy="27.06">168</tspan><tspan x="-1200" dy="13.53">170</tspan><tspan x="-1200" dy="27.06">174</tspan><tspan x="-1200" dy="13.53">176</tspan><tspan x="-1200" dy="27.06">180</tspan><tspan x="-1200" dy="13.53">182</tspan><tspan x="-1200" dy="27.06">186</tspan><tspan x="-1200" dy="13.53">188</tspan><tspan x="-1200" dy="27.06">192</tspan><tspan x="-1200" dy="13.53">194</tspan><tspan x="-1200" dy="27.06">198</tspan><tspan x="-1200" dy="13.53">200</tspan><tspan x="-1200" dy="27.06">204</tspan><tspan x="-1200" dy="13.53">206</tspan><tspan x="-1200" dy="27.06">210</tspan><tspan x="-1200" dy="13.53">212</tspan><tspan x="-1200" dy="27.06">216</tspan><tspan x="-1200" dy="13.53">218</tspan><tspan x="-1200" dy="27.06">222</tspan><tspan x="-1200" dy="13.53">224</tspan><tspan x="-1200" dy="27.06">228</tspan><tspan x="-1200" dy="13.53">230</tspan><tspan x="-1200" dy="27.06">234</tspan><tspan x="-1200" dy="13.53">236</tspan><tspan x="-1200" dy="27.06">240</tspan><tspan x="-1200" dy="13.53">242</tspan><tspan x="-1200" dy="27.06">246</tspan><tspan x="-1200" dy="13.53">248</tspan><tspan x="-1200" dy="27.06">252</tspan><tspan x="-1200" dy="13.53">254</tspan><tspan x="-1200" dy="27.06">258</tspan><tspan x="-1200" dy="13.53">260</tspan><tspan x="-1200" dy="27.06">264</tspan><tspan x="-1200" dy="13.53">266</tspan><tspan x="-1200" dy="27.06">270</tspan><tspan x="-1200" dy="13.53">272</tspan><tspan x="-1200" dy="27.06">276</tspan><tspan x="-1200" dy="13.53">278</tspan><tspan x="-1200" dy="27.06">282</tspan><tspan x="-1200" dy="13.53">284</tspan><tspan x="-1200" dy="27.06">288</tspan><tspan x="-1200" dy="13.53">290</tspan><tspan x="-1200" dy="27.06">294</tspan><tspan x="-1200" dy="13.53">296</tspan><tspan x="-1200" dy="27.06">300</tspan><tspan x="-1200" dy="13.53">302</tspan><tspan x="-1200" dy="27.06">306</tspan><tspan x="-1200" dy="13.53">308</tspan></text>
<text class="cl e" transform="rotate(-90)" y="183.82"><tspan x="-1227">159</tspan><tspan x="-1227" dy="13.53">161</tspan><tspan x="-1227" dy="27.06">165</tspan><tspan x="-1227" dy="13.53">167</tspan><tspan x="-1227" dy="27.06">171</tspan><tspan x="-1227" dy="13.53">173</tspan><tspan x="-1227" dy="27.06">177</tspan><tspan x="-1227" dy="13.53">179</tspan><tspan x="-1227" dy="27.06">183</tspan><tspan x="-1227" dy="13.53">185</tspan><tspan x="-1227" dy="27.06">189</tspan><tspan x="-1227" dy="13.53">191</tspan><tspan x="-1227" dy="27.06">195</tspan><tspan x="-1227" dy="13.53">197</tspan><tspan x="-1227" dy="27.06">201</tspan><tspan x="-1227" dy="13.53">203</tspan><tspan x="-1227" dy="27.06">207</tspan><tspan x="-1227" dy="13.53">209</tspan><tspan x="-1227" dy="27.06">213</tspan><tspan x="-1227" dy="13.53">215</tspan><tspan x="-1227" dy="27.06">219</tspan><tspan x="-1227" dy="13.53">221</tspan><tspan x="-1227" dy="27.06">225</tspan><tspan x="-1227" dy="13.53">227</tspan><tspan x="-1227" dy="27.06">231</tspan><tspan x="-1227" dy="13.53">233</tspan><tspan x="-1227" dy="27.06">237</tspan><tspan x="-1227" dy="13.53">239</tspan><tspan x="-1227" dy="27.06">243</tspan><tspan x="-1227" dy="13.53">245</tspan><tspan x="-1227" dy="27.06">249</tspan><tspan x="-1227" dy="13.53">251</tspan><tspan x="-1227" dy="27.06">255</tspan><tspan x="-1227" dy="13.53">257</tspan><tspan x="-1227" dy="27.06">261</tspan><tspan x="-1227" dy="13.53">263</tspan><tspan x="-1227" dy="27.06">267</tspan><tspan x="-1227" dy="13.53">269</tspan><tspan x="-1227" dy="27.06">273</tspan><tspan x="-1227" dy="13.53">275</tspan><tspan x="-1227" dy="27.06">279</tspan><tspan x="-1227" dy="13.53">281</tspan><tspan x="-1227" dy="27.06">285</tspan><tspan x="-1227" dy="13.53">287</tspan><tspan x="-1227" dy="27.06">291</tspan><tspan x="-1227" dy="13.53">293</tspan><tspan x="-1227" dy="27.06">297</tspan><tspan x="-1227" dy="13.53">299</tspan><tspan x="-1227" dy="27.06">303</tspan><tspan x="-1227" dy="13.53">305</tspan><tspan x="-1227" dy="27.06">309</tspan><tspan x="-1227" dy="13.53">311</tspan></text>
<path stroke="#444" d="M159 957h4M159 973.9h4M159 990.9h4M159 1007.8h4M159 1024.7h4M159 1041.6h4M159 1058.5h4M159 1075.5h4M159 1092.4h4M159 1109.3h4M159 1126.2h4M159 1143.1h4M159 1160h4M1211.6 965.5h4M1211.6 982.4h4M1211.6 999.4h4M1211.6 1016.3h4M1211.6 1033.2h4M1211.6 1050.1h4M1211.6 1067h4M1211.6 1084h4M1211.6 1100.9h4M1211.6 1117.8h4M1211.6 1134.7h4M1211.6 1151.6h4"/>
<g class="e">
<text x="158" y="962.5">nsp1</text>
<text x="158" y="979.4">nsp3e</text>
<text x="158" y="996.4">nsp9</text>
<text x="158" y="1013.3">nsp8</text>
<text x="158" y="1030.2">nsp3c (SUD-MC)</text>
<text x="158" y="1047.1">ORF9a (IDR1-NTD-IDR2)</text>
<text x="158" y="1064">nsp2 (CtDR)</text>
<text x="158" y="1081">nsp3d</text>
<text x="158" y="1097.9"><tspan class="sub" dy="3">GS</tspan><tspan dy="-3">nsp5</tspan></text>
<text x="158" y="1114.8">nsp10</text>
<text x="158" y="1131.7">nsp10•nsp16</text>
<text x="158" y="1148.6">nsp3Y</text>
<text x="158" y="1165.5">nsp10•nsp14</text>
</g>
<text x="1216" y="971"><tspan class="sub" dy="3">GHM</tspan><tspan dy="-3">nsp5</tspan></text>
<text x="1216" y="987.9">nsp3a</text>
<text x="1216" y="1004.9">nsp7</text>
<text x="1216" y="1021.8">nsp3c (SUD-N)</text>
<text x="1216" y="1038.7">ORF9a (NTD)</text>
<text x="1216" y="1055.6">nsp3b</text>
<text x="1216" y="1072.5">nsp3b•GS-441524</text>
<text x="1216" y="1089.5"><tspan class="sub" dy="3">His6</tspan><tspan dy="-3">nsp15</tspan></text>
<text x="1216" y="1106.4">ORF9a (CTD)</text>
<text x="1216" y="1123.3">ORF9a (NTD-SR)</text>
<text x="1216" y="1140.2">ORF9b</text>
<text x="1216" y="1157.1">nsp5</text>
</g>
</svg>
